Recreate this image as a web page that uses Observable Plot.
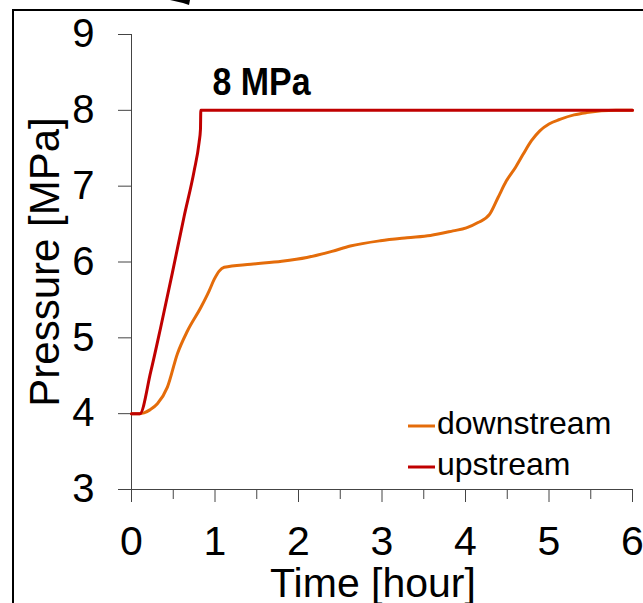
<!DOCTYPE html>
<html>
<head>
<meta charset="utf-8">
<script src="https://cdn.jsdelivr.net/npm/d3@7"></script>
<script src="https://cdn.jsdelivr.net/npm/@observablehq/plot@0.6"></script>
<style>
  html, body { margin: 0; padding: 0; background: #fff; }
  #wrap { position: relative; width: 643px; height: 603px; overflow: hidden; font-family: "Liberation Sans", Arial, sans-serif; }
  #frame { position: absolute; left: 11.5px; top: 9px; width: 800px; height: 800px; border-left: 2.5px solid #000; border-top: 2.5px solid #000; box-sizing: border-box; }
  #chart { position: absolute; left: 0; top: 0; }
  #legend, #deco { position: absolute; left: 0; top: 0; }
</style>
</head>
<body>
<div id="wrap">
  <div id="frame"></div>
  <div id="chart"></div>
  <svg id="legend" width="643" height="603"></svg>
  <svg id="deco" width="643" height="20"><polygon points="170,0 190,0 189,5 183,3" fill="#000"></polygon></svg>
</div>
<script>
// ---- data ----
const downTime = [0, 0.10, 0.15, 0.22, 0.31, 0.43, 0.55, 0.67, 0.83, 0.93, 0.99, 1.05, 1.11, 1.43, 1.80, 2.10, 2.40, 2.62, 2.98, 3.30, 3.58, 3.85, 4.01, 4.15, 4.29, 4.39, 4.49, 4.60, 4.69, 4.79, 4.89, 5.00, 5.13, 5.30, 5.45, 5.80, 6.00];
const downPressure = [4.00, 4.00, 4.01, 4.05, 4.13, 4.35, 4.79, 5.09, 5.40, 5.62, 5.77, 5.88, 5.93, 5.97, 6.01, 6.06, 6.14, 6.21, 6.28, 6.32, 6.35, 6.41, 6.45, 6.52, 6.63, 6.85, 7.07, 7.25, 7.42, 7.60, 7.73, 7.82, 7.88, 7.94, 7.97, 8.00, 8.00];
const upTime = [0, 0.10, 0.23, 0.35, 0.49, 0.63, 0.75, 0.81, 0.826, 0.83, 6.00];
const upPressure = [4.00, 4.00, 4.55, 5.14, 5.86, 6.60, 7.20, 7.58, 7.75, 8.00, 8.00];

const seriesNames = ["downstream", "upstream"];
const seriesColors = ["#E46C0A", "#C00000"];

const xTicks = [0, 1, 2, 3, 4, 5, 6];
const xMinorTicks = [0.5, 1.5, 2.5, 3.5, 4.5, 5.5];
const yTicks = [3, 4, 5, 6, 7, 8, 9];
const xLabel = "Time [hour]";
const yLabel = "Pressure [MPa]";
const annotations = [{t: 0.97, p: 8, label: "8 MPa"}];

// ---- build tables ----
const downData = downTime.map((t, i) => ({t, p: downPressure[i]}));
const upData = upTime.map((t, i) => ({t, p: upPressure[i]}));

const font = "Liberation Sans, Arial, sans-serif";
const axisColor = "#444";

const plot = Plot.plot({
  width: 643,
  height: 603,
  marginLeft: 131,
  marginRight: 11,
  marginTop: 34,
  marginBottom: 114,
  x: {domain: [0, 6]},
  y: {domain: [3, 9]},
  style: {fontFamily: font, background: "transparent", color: "#000", overflow: "visible"},
  marks: [
    Plot.axisY(yTicks, {tickSize: 13, tickPadding: 24, fontSize: 40, stroke: axisColor, fill: "#000", label: null, tickFormat: d => String(d)}),
    Plot.axisX(xTicks, {tickSize: 13, tickPadding: 23, fontSize: 41, stroke: axisColor, fill: "#000", label: null, tickFormat: d => String(d)}),
    Plot.axisX(xMinorTicks, {tickSize: 10, tickFormat: () => "", stroke: axisColor, label: null}),
    Plot.ruleX([0], {stroke: axisColor}),
    Plot.ruleY([3], {stroke: axisColor}),
    Plot.line(downData, {x: "t", y: "p", stroke: seriesColors[0], strokeWidth: 3, curve: "monotone-x"}),
    Plot.line(upData, {x: "t", y: "p", stroke: seriesColors[1], strokeWidth: 3, curve: "monotone-x"}),
    Plot.text(annotations, {x: "t", y: "p", text: "label", textAnchor: "start", lineAnchor: "bottom", dy: -15, fontSize: 38, fontWeight: "bold", fill: "#000"}),
    Plot.text([yLabel], {text: d => d, frameAnchor: "left", textAnchor: "middle", rotate: -90, dx: -73, lineAnchor: "bottom", fontSize: 42, fill: "#000"}),
    Plot.text([xLabel], {text: d => d, frameAnchor: "bottom", textAnchor: "middle", dx: -9, dy: 107, lineAnchor: "bottom", fontSize: 41, fill: "#000"})
  ]
});
document.getElementById("chart").appendChild(plot);

// condensed bold annotation
d3.select(plot).selectAll("text").filter(function() { return this.textContent === "8 MPa"; })
  .attr("textLength", 98).attr("lengthAdjust", "spacingAndGlyphs");

// ---- legend ----
const leg = d3.select("#legend");
const legX = 408, legY0 = 426, legStep = 41;
seriesNames.forEach((name, i) => {
  const y = legY0 + i * legStep;
  leg.append("line").attr("x1", legX).attr("x2", legX + 27).attr("y1", y).attr("y2", y)
    .attr("stroke", seriesColors[i]).attr("stroke-width", 3);
  leg.append("text").attr("x", legX + 29).attr("y", y + 7.5)
    .attr("font-family", font).attr("font-size", 32).attr("fill", "#000").text(name);
});
</script>
</body>
</html>
